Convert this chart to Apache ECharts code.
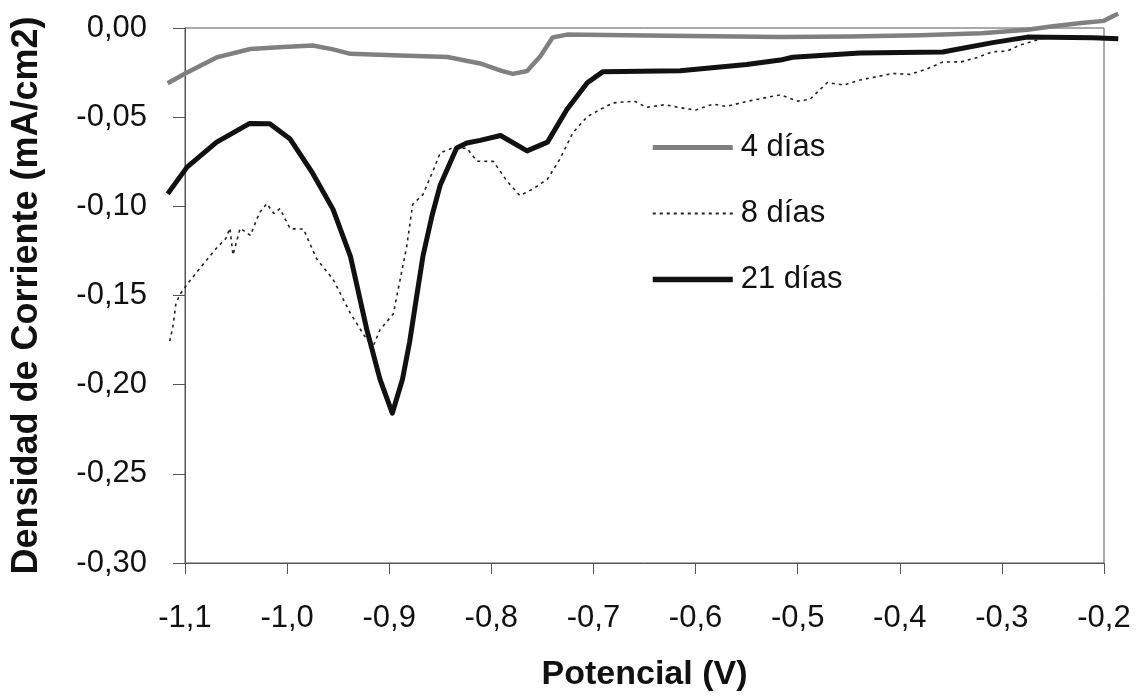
<!DOCTYPE html>
<html>
<head>
<meta charset="utf-8">
<script src="https://cdn.jsdelivr.net/npm/echarts@6/dist/echarts.min.js"></script>
<style>
  html, body { margin: 0; padding: 0; background: #ffffff; }
  #chart { width: 1138px; height: 697px; }
</style>
</head>
<body>
<div id="chart"></div>
<script>
// ---- Data ----
const seriesNames = ['4 días', '8 días', '21 días'];

const potential4 = [-1.117, -1.098, -1.069, -1.036, -1.004, -0.975, -0.955, -0.938, -0.889, -0.843, -0.811, -0.790, -0.779, -0.765, -0.752, -0.740, -0.726, -0.648, -0.517, -0.450, -0.380, -0.320, -0.275, -0.250, -0.220, -0.200, -0.190, -0.186];
const current4   = [-0.031, -0.025, -0.0165, -0.0118, -0.0107, -0.0098, -0.012, -0.0145, -0.0154, -0.0163, -0.0199, -0.024, -0.0257, -0.0241, -0.0158, -0.0053, -0.0037, -0.0042, -0.005, -0.0048, -0.004, -0.003, -0.001, 0.001, 0.003, 0.004, 0.007, 0.008];

const potential8 = [-1.115, -1.112, -1.109, -1.105, -1.098, -1.085, -1.069, -1.060, -1.056, -1.053, -1.046, -1.036, -1.027, -1.020, -1.013, -1.007, -0.997, -0.984, -0.971, -0.955, -0.938, -0.922, -0.915, -0.909, -0.896, -0.883, -0.877, -0.867, -0.857, -0.850, -0.838, -0.824, -0.814, -0.798, -0.785, -0.772, -0.759, -0.745, -0.733, -0.720, -0.706, -0.694, -0.681, -0.660, -0.648, -0.630, -0.615, -0.600, -0.583, -0.570, -0.550, -0.537, -0.517, -0.500, -0.488, -0.471, -0.455, -0.439, -0.420, -0.407, -0.390, -0.373, -0.358, -0.340, -0.324, -0.309, -0.295, -0.282, -0.260];
const current8   = [-0.1756, -0.168, -0.155, -0.1494, -0.1438, -0.1344, -0.1233, -0.118, -0.1122, -0.1273, -0.1123, -0.1163, -0.1035, -0.0985, -0.104, -0.1013, -0.1126, -0.1127, -0.1296, -0.1409, -0.160, -0.1747, -0.1775, -0.1692, -0.1603, -0.1229, -0.0989, -0.0934, -0.080, -0.070, -0.0673, -0.0674, -0.0747, -0.0748, -0.0856, -0.094, -0.0902, -0.0847, -0.0736, -0.0586, -0.0497, -0.0459, -0.042, -0.041, -0.0445, -0.043, -0.0447, -0.046, -0.0427, -0.044, -0.0412, -0.0397, -0.0375, -0.041, -0.040, -0.0306, -0.032, -0.0292, -0.027, -0.0255, -0.026, -0.0229, -0.0191, -0.019, -0.0165, -0.0133, -0.013, -0.0095, -0.0058];

const potential21 = [-1.117, -1.098, -1.069, -1.037, -1.017, -0.997, -0.975, -0.955, -0.938, -0.922, -0.909, -0.897, -0.887, -0.880, -0.873, -0.867, -0.858, -0.850, -0.834, -0.824, -0.811, -0.791, -0.765, -0.745, -0.726, -0.706, -0.691, -0.615, -0.550, -0.517, -0.505, -0.439, -0.358, -0.309, -0.275, -0.211, -0.186];
const current21   = [-0.093, -0.078, -0.064, -0.0536, -0.0537, -0.0623, -0.0814, -0.1017, -0.128, -0.169, -0.197, -0.216, -0.197, -0.176, -0.150, -0.128, -0.105, -0.088, -0.0673, -0.0645, -0.063, -0.0603, -0.0689, -0.064, -0.0457, -0.0307, -0.0246, -0.024, -0.0205, -0.018, -0.0164, -0.014, -0.0135, -0.0082, -0.0051, -0.0055, -0.006];

const xTicks = { min: -1.1, max: -0.2, step: 0.1 };
const yTicks = { min: -0.30, max: 0.0, step: 0.05 };

function pairs(xs, ys) { return xs.map((x, i) => [x, ys[i]]); }

// ---- Layout ----
const G = { left: 185, right: 34, top: 28, bottom: 134 };
const W = 1138, H = 697;
const PAD = 20; // curves in the reference run a little past the plot frame
const pxPerX = (W - G.left - G.right) / (xTicks.max - xTicks.min);
const pxPerY = (H - G.top - G.bottom) / (yTicks.max - yTicks.min);

const FONT = "'Liberation Sans', Arial, sans-serif";
const chart = echarts.init(document.getElementById('chart'), null, { renderer: 'canvas' });

chart.setOption({
  backgroundColor: '#ffffff',
  animation: false,
  grid: [
    { left: G.left, right: G.right, top: G.top, bottom: G.bottom,
      show: true, borderColor: '#555555', borderWidth: 1, backgroundColor: 'transparent' },
    { left: G.left - PAD, right: G.right - PAD, top: G.top - PAD, bottom: G.bottom - PAD, show: false }
  ],
  legend: {
    orient: 'vertical',
    left: 645, top: 127,
    itemWidth: 80, itemHeight: 14, itemGap: 35,
    data: [
      { name: seriesNames[0], lineStyle: { width: 5 } },
      { name: seriesNames[1], lineStyle: { width: 2 } },
      { name: seriesNames[2], lineStyle: { width: 5.5 } }
    ],
    itemStyle: { opacity: 0 },
    textStyle: { fontFamily: FONT, fontSize: 31, color: '#111111', padding: [0, 0, 0, 3] },
    selectedMode: false
  },
  xAxis: [
    {
      gridIndex: 0, type: 'value',
      min: xTicks.min, max: xTicks.max, interval: xTicks.step,
      name: 'Potencial (V)', nameLocation: 'middle', nameGap: 95,
      nameTextStyle: { fontFamily: FONT, fontSize: 34, fontWeight: 'bold', color: '#111111' },
      axisLine: { show: true, onZero: false, lineStyle: { color: '#555555', width: 1 } },
      axisTick: { show: true, inside: false, length: 11, lineStyle: { color: '#555555' } },
      splitLine: { show: false },
      axisLabel: {
        margin: 40, fontFamily: FONT, fontSize: 31, color: '#111111',
        formatter: v => v.toFixed(1).replace('.', ',')
      }
    },
    {
      gridIndex: 1, type: 'value', show: false,
      min: xTicks.min - PAD / pxPerX, max: xTicks.max + PAD / pxPerX,
      splitLine: { show: false }
    }
  ],
  yAxis: [
    {
      gridIndex: 0, type: 'value',
      min: yTicks.min, max: yTicks.max, interval: yTicks.step,
      name: 'Densidad de Corriente (mA/cm2)', nameLocation: 'middle', nameGap: 140, nameRotate: 90,
      nameTextStyle: { fontFamily: FONT, fontSize: 36, fontWeight: 'bold', color: '#111111' },
      axisLine: { show: true, onZero: false, lineStyle: { color: '#555555', width: 1 } },
      axisTick: { show: true, inside: false, length: 12, lineStyle: { color: '#555555' } },
      splitLine: { show: false },
      axisLabel: {
        margin: 38, fontFamily: FONT, fontSize: 31, color: '#111111',
        formatter: v => { const s = Math.abs(v) < 1e-9 ? '0.00' : v.toFixed(2); return s.replace('.', ','); }
      }
    },
    {
      gridIndex: 1, type: 'value', show: false,
      min: yTicks.min - PAD / pxPerY, max: yTicks.max + PAD / pxPerY,
      splitLine: { show: false }
    }
  ],
  series: [
    {
      name: seriesNames[0], type: 'line', xAxisIndex: 1, yAxisIndex: 1,
      data: pairs(potential4, current4),
      showSymbol: false, symbol: 'none', z: 2,
      lineStyle: { color: '#808080', width: 4.5, join: 'round' }, itemStyle: { color: '#808080' }
    },
    {
      name: seriesNames[1], type: 'line', xAxisIndex: 1, yAxisIndex: 1,
      data: pairs(potential8, current8),
      showSymbol: false, symbol: 'none', z: 3,
      lineStyle: { color: '#222222', width: 1.6, type: [3, 4] }, itemStyle: { color: '#222222' }
    },
    {
      name: seriesNames[2], type: 'line', xAxisIndex: 1, yAxisIndex: 1,
      data: pairs(potential21, current21),
      showSymbol: false, symbol: 'none', z: 4,
      lineStyle: { color: '#111111', width: 5, join: 'round' }, itemStyle: { color: '#111111' }
    }
  ]
});
</script>
</body>
</html>
